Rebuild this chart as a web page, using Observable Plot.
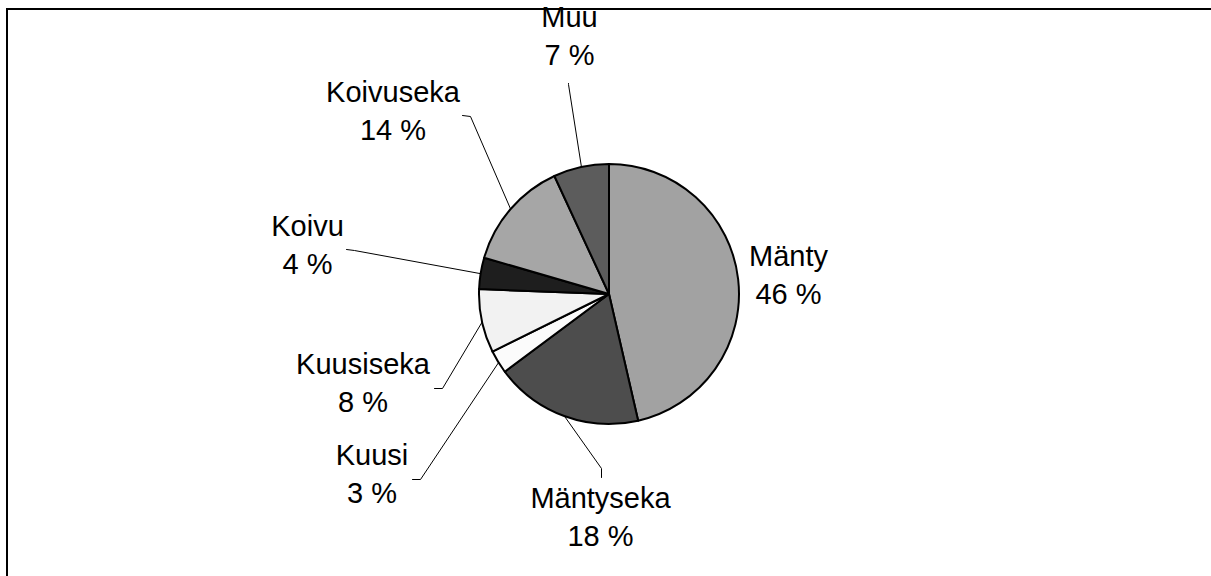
<!DOCTYPE html>
<html><head><meta charset="utf-8">
<script src="https://cdn.jsdelivr.net/npm/d3@7"></script>
<script src="https://cdn.jsdelivr.net/npm/@observablehq/plot@0.6"></script>
<style>
html,body{margin:0;padding:0;background:#fff;overflow:hidden}
#wrap{position:relative;width:1211px;height:576px}
#frame{position:absolute;left:5.5px;top:7.5px;width:1300px;height:700px;border:2px solid #000;pointer-events:none}
</style></head><body><div id="wrap"><div id="chart"></div><div id="frame"></div></div>
<script>
// ---- data ----
const names = ["Mänty", "Mäntyseka", "Kuusi", "Kuusiseka", "Koivu", "Koivuseka", "Muu"];
const shares = [46.4, 18.4, 2.9, 7.9, 3.9, 13.6, 6.9];
const pctLabels = [46, 18, 3, 8, 4, 14, 7];

// ---- styles / layout ----
const palette = ["#a2a2a2", "#4d4d4d", "#fbfbfb", "#f2f2f2", "#1e1e1e", "#a6a6a6", "#5c5c5c"];
const R = 130; // pie radius in chart units
const labelAt = [[179, 22], [-9, -220], [-237.5, -177], [-246.5, -86], [-302, 52], [-216.5, 186], [-40, 261]];
const leaderFrom = [null, [[-8, -183], [-8, -174]], [[-197, -185], [-189, -185]], [[-175, -94], [-167, -94]],
  [[-263, 45], [-255, 44]], [[-147, 179], [-139, 178]], [[-41, 211], [-41, 210]]];

const total = d3.sum(shares);
let acc = 0;
const rows = names.map((name, i) => {
  const a0 = acc / total * 2 * Math.PI;
  acc += shares[i];
  const a1 = acc / total * 2 * Math.PI;
  const mid = (a0 + a1) / 2;
  return {name, share: shares[i], pct: pctLabels[i], a0, a1, mid,
    lx: labelAt[i][0], ly: labelAt[i][1]};
});

const leaders = [];
rows.forEach((r, i) => {
  if (!leaderFrom[i]) return;
  leaderFrom[i].forEach(([x, y]) => leaders.push({name: r.name, x, y}));
  leaders.push({name: r.name, x: R * Math.sin(r.mid), y: R * Math.cos(r.mid)});
});

const wedges = (index, scales) => {
  const cx = scales.x(0), cy = scales.y(0);
  const rad = scales.x(R) - scales.x(0);
  const color = scales.color ? scales.color : (n => palette[names.indexOf(n)]);
  const arc = d3.arc().innerRadius(0).outerRadius(rad);
  const g = d3.create("svg:g").attr("transform", `translate(${cx},${cy})`);
  g.selectAll("path").data(rows).join("path")
    .attr("d", d => arc({startAngle: d.a0, endAngle: d.a1}))
    .attr("fill", d => color(d.name))
    .attr("stroke", "#000")
    .attr("stroke-width", 2)
    .attr("stroke-linejoin", "round");
  return g.node();
};

const chart = Plot.plot({
  width: 1211,
  height: 576,
  margin: 0,
  x: {domain: [-609, 602], axis: null},
  y: {domain: [-282, 294], axis: null},
  color: {domain: names, range: palette},
  style: {background: "transparent"},
  marks: [
    Plot.dot(rows, {x: () => 0, y: () => 0, r: 0, fill: "name"}),
    Plot.line(leaders, {x: "x", y: "y", z: "name", stroke: "#000", strokeWidth: 1}),
    wedges,
    Plot.text(rows, {
      x: "lx", y: "ly",
      text: d => `${d.name}\n${d.pct} %`,
      fontSize: 29, lineHeight: 1.31,
      fontFamily: "'Liberation Sans', Arial, sans-serif",
      fill: "#000"
    })
  ]
});
document.getElementById("chart").appendChild(chart);
</script></body></html>
